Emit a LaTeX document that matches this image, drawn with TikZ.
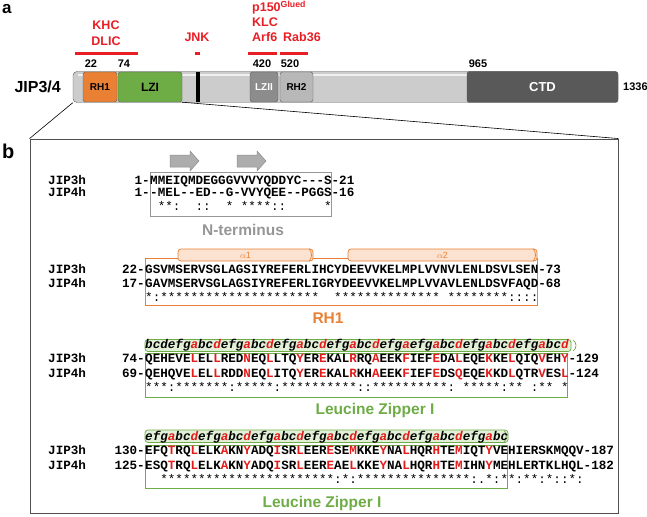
\documentclass[tikz,border=0pt]{standalone}
\usepackage{fontspec}
\setmainfont{Liberation Sans}
\setmonofont{Liberation Mono}
\usepackage{tikz}

\definecolor{lblred}{RGB}{232,30,37}
\definecolor{zipred}{RGB}{228,28,28}
\definecolor{rhorange}{RGB}{234,128,52}
\definecolor{lzgreen}{RGB}{110,172,70}
\definecolor{hepfill}{RGB}{226,240,216}
\definecolor{helfill}{RGB}{252,226,208}
\definecolor{ntgray}{RGB}{150,150,150}
\definecolor{bargray}{RGB}{204,204,204}
\definecolor{framegray}{RGB}{80,80,80}

\newcommand{\zp}[1]{\textcolor{zipred}{#1}}

\begin{document}
\begin{tikzpicture}[x=1pt,y=-1pt,
  lbl/.style={inner sep=0pt,font=\bfseries\fontsize{12.5}{14}\selectfont},
  redlbl/.style={lbl,text=lblred,anchor=base},
  dom/.style={draw=black!65,rounded corners=2.5pt,minimum height=30pt,inner sep=0pt,font=\bfseries\fontsize{10}{12}\selectfont},
  resnum/.style={inner sep=0pt,anchor=base,font=\bfseries\fontsize{11}{12}\selectfont},
  seq/.style={inner sep=0pt,anchor=base west,font=\ttfamily\bfseries\fontsize{12.6}{14}\selectfont},
  seqstart/.style={seq,anchor=base east},
  cons/.style={seq,font=\ttfamily\fontsize{12.6}{14}\selectfont},
  hep/.style={seq,font=\ttfamily\bfseries\itshape\fontsize{12.6}{14}\selectfont},
  boxlbl/.style={inner sep=0pt,anchor=base,font=\bfseries\fontsize{15.5}{17}\selectfont},
  helix/.style={draw=rhorange,fill=helfill,rounded corners=3pt,line width=0.7pt},
  hepbox/.style={draw=lzgreen,fill=hepfill,rounded corners=3pt,line width=0.7pt},
  strand/.style={draw=black!45,fill=black!32,line width=0.5pt}]

  \useasboundingbox (0,0) rectangle (647,516);

  %% panel a
  \node (pa) [lbl,anchor=base west,font=\bfseries\fontsize{17}{19}\selectfont] at (2,14) {a};
  \node (prot) [lbl,anchor=east,font=\bfseries\fontsize{16}{18}\selectfont] at (61,87) {JIP3/4};

  \node (bar) [dom,fill=bargray,minimum width=545pt,minimum height=31pt,rounded corners=4pt] at (345.5,87) {};
  \draw[white!70!bargray,line width=2.5pt] (78,75) -- (612,75);

  \node (rh1) [dom,fill=rhorange,minimum width=34pt] at (100,87) {RH1};
  \node (lzi) [dom,fill=lzgreen,minimum width=64pt,font=\bfseries\fontsize{12}{14}\selectfont] at (150,87) {LZI};
  \node (jnk) [fill=black,inner sep=0pt,minimum width=4pt,minimum height=30pt] at (198,87) {};
  \node (lzii) [dom,fill=black!45,text=white,minimum width=28pt] at (264,87) {LZII};
  \node (rh2) [dom,fill=black!28,minimum width=33pt] at (296.5,87) {RH2};
  \node (ctd) [dom,fill=black!65,text=white,minimum width=151pt,minimum height=31pt,font=\bfseries\fontsize{13}{15}\selectfont] at (542.5,87) {CTD};

  \node (n22) [resnum] at (91,68) {22};
  \node (n74) [resnum] at (124,68) {74};
  \node (n420) [resnum] at (262,68) {420};
  \node (n520) [resnum] at (290,68) {520};
  \node (n965) [resnum] at (478,68) {965};
  \node (n1336) [resnum,anchor=base west] at (623,91) {1336};

  \node (khc) [redlbl] at (106,30) {KHC};
  \node (dlic) [redlbl] at (106,46) {DLIC};
  \node (jnkl) [redlbl] at (197,42) {JNK};
  \node (p150) [redlbl,anchor=base west] at (252,12) {p150\textsuperscript{Glued}};
  \node (klc) [redlbl,anchor=base west] at (252,27) {KLC};
  \node (arf6) [redlbl,anchor=base west] at (252,42) {Arf6};
  \node (rab36) [redlbl,anchor=base west] at (283,42) {Rab36};

  \draw[lblred,line width=3pt] (75,53.5) -- (138,53.5);
  \draw[lblred,line width=3pt] (195,53.5) -- (200,53.5);
  \draw[lblred,line width=3pt] (248,53.5) -- (277,53.5);
  \draw[lblred,line width=3pt] (280,53.5) -- (308,53.5);

  %% panel b
  \node (pb) [lbl,anchor=base west,font=\bfseries\fontsize{20}{21}\selectfont] at (2,158) {b};
  \node (frame) [draw=framegray,line width=0.9pt,inner sep=0pt,minimum width=588pt,minimum height=374pt] at (324,326) {};
  \draw[line width=0.6pt] (bar.south west) -- (frame.north west);
  \draw[line width=0.6pt] (lzi.south east) -- (frame.north east);

  % N-terminus
  \draw[strand] (170,155) -- (190,155) -- (190,151) -- (199,161) -- (190,171) -- (190,167) -- (170,167) -- cycle;
  \draw[strand] (237,155) -- (257,155) -- (257,151) -- (266,161) -- (257,171) -- (257,167) -- (237,167) -- cycle;
  \draw[draw=ntgray,line width=1pt] (150,172) rectangle (331.2,216);
  \node (j3a) [seq] at (48,184) {JIP3h};
  \node (j4a) [seq] at (48,196) {JIP4h};
  \node (s3a) [seqstart] at (150,184) {1-};
  \node (s4a) [seqstart] at (150,196) {1-};
  \node (q3a) [seq] at (150,184) {MMEIQMDEGGGVVVYQDDYC---S-21};
  \node (q4a) [seq] at (150,196) {-MEL--ED--G-VVYQEE--PGGS-16};
  \node (ca) [cons] at (150,210) {~**:~~::~~*~****::~~~~~*};
  \node (lbla) [boxlbl,text=ntgray] at (243,235) {N-terminus};

  % RH1
  \draw[draw=rhorange,line width=1pt] (145,258) rectangle (537.6,305);
  \node (h1) [helix,minimum width=135pt,minimum height=12pt,inner sep=0pt] at (245.5,255) {};
  \node (h2) [helix,minimum width=189pt,minimum height=12pt,inner sep=0pt] at (442.5,255) {};
  \draw[rhorange,line width=0.7pt] ([xshift=-4pt]h1.north east) .. controls ([xshift=-1pt]h1.east) .. ([xshift=-4pt]h1.south east);
  \draw[rhorange,line width=0.7pt] ([xshift=-4pt]h2.north east) .. controls ([xshift=-1pt]h2.east) .. ([xshift=-4pt]h2.south east);
  \node (a1) [text=rhorange,inner sep=0pt,font=\fontsize{9}{10}\selectfont] at (h1) {$\alpha$1};
  \node (a2) [text=rhorange,inner sep=0pt,font=\fontsize{9}{10}\selectfont] at (h2) {$\alpha$2};
  \node (j3b) [seq] at (48,273.5) {JIP3h};
  \node (j4b) [seq] at (48,287) {JIP4h};
  \node (s3b) [seqstart] at (145,273.5) {22-};
  \node (s4b) [seqstart] at (145,287) {17-};
  \node (q3b) [seq] at (145,273.5) {GSVMSERVSGLAGSIYREFERLIHCYDEEVVKELMPLVVNVLENLDSVLSEN-73};
  \node (q4b) [seq] at (145,287) {GAVMSERVSGLAGSIYREFERLIGRYDEEVVKELMPLVVAVLENLDSVFAQD-68};
  \node (cb) [cons] at (145,301) {*:*********************~~**************~********::::};
  \node (lblb) [boxlbl,text=rhorange] at (328,323) {RH1};

  % Leucine zipper, part 1
  \draw[hepbox] (145,339.5) rectangle (571,351.5);
  \draw[lzgreen,line width=0.7pt] (573,340) .. controls (577,342) and (577,349) .. (573,351);
  \node (hc) [hep] at (145,348.5) {bcdefg\zp{a}bc\zp{d}efg\zp{a}bc\zp{d}efg\zp{a}bc\zp{d}efg\zp{a}bc\zp{d}efg\zp{a}efg\zp{a}bc\zp{d}efg\zp{a}bc\zp{d}efg\zp{a}bc\zp{d}};
  \draw[draw=lzgreen,line width=1pt] (145,353.5) rectangle (567.8,397);
  \node (j3c) [seq] at (48,362) {JIP3h};
  \node (j4c) [seq] at (48,377) {JIP4h};
  \node (s3c) [seqstart] at (145,362) {74-};
  \node (s4c) [seqstart] at (145,377) {69-};
  \node (q3c) [seq] at (145,362) {QEHEVE\zp{L}EL\zp{L}RED\zp{N}EQ\zp{L}LTQ\zp{Y}ER\zp{E}KAL\zp{R}RQ\zp{A}EEK\zp{F}IEF\zp{E}DA\zp{L}EQE\zp{K}KE\zp{L}QIQ\zp{V}EH\zp{Y}-129};
  \node (q4c) [seq] at (145,377) {QEHQVE\zp{L}EL\zp{L}RDD\zp{N}EQ\zp{L}ITQ\zp{Y}ER\zp{E}KAL\zp{R}KH\zp{A}EEK\zp{F}IEF\zp{E}DS\zp{Q}EQE\zp{K}KD\zp{L}QTR\zp{V}ES\zp{L}-124};
  \node (cc) [cons] at (145,391.5) {***:*******:*****:**********::**********:~*****:**~:**~*};
  \node (lblc) [boxlbl,text=lzgreen] at (375,414) {Leucine Zipper I};

  % Leucine zipper, part 2
  \draw[hepbox] (145,430) rectangle (508,442.5);
  \draw[lzgreen,line width=0.7pt] (504,430.5) .. controls (507,433) and (507,440) .. (504,442);
  \node (hd) [hep] at (145,440) {efg\zp{a}bc\zp{d}efg\zp{a}bc\zp{d}efg\zp{a}bc\zp{d}efg\zp{a}bc\zp{d}efg\zp{a}bc\zp{d}efg\zp{a}bc\zp{d}efg\zp{a}bc};
  \draw[draw=lzgreen,line width=1pt] (145,445) rectangle (507.4,488);
  \node (j3d) [seq] at (48,454) {JIP3h};
  \node (j4d) [seq] at (48,469) {JIP4h};
  \node (s3d) [seqstart] at (145,454) {130-};
  \node (s4d) [seqstart] at (145,469) {125-};
  \node (q3d) [seq] at (145,454) {EFQ\zp{T}RQ\zp{L}ELK\zp{A}KN\zp{Y}ADQ\zp{I}SR\zp{L}EER\zp{E}SE\zp{M}KKE\zp{Y}NA\zp{L}HQR\zp{H}TE\zp{M}IQT\zp{Y}VEHIERSKMQQV-187};
  \node (q4d) [seq] at (145,469) {ESQ\zp{T}RQ\zp{L}ELK\zp{A}KN\zp{Y}ADQ\zp{I}SR\zp{L}EER\zp{E}AE\zp{L}KKE\zp{Y}NA\zp{L}HQR\zp{H}TE\zp{M}IHN\zp{Y}MEHLERTKLHQL-182};
  \node (cd) [cons] at (145,483) {~~***********************:*:***************:.*:**:**:*::*:};
  \node (lbld) [boxlbl,text=lzgreen] at (322,507) {Leucine Zipper I};
\end{tikzpicture}
\end{document}
